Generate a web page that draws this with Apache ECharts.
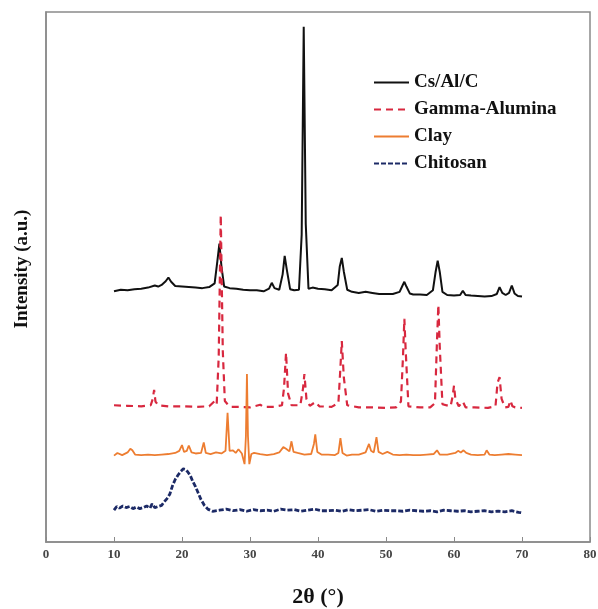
<!DOCTYPE html>
<html>
<head>
<meta charset="utf-8">
<script src="https://cdn.jsdelivr.net/npm/echarts@6/dist/echarts.min.js"></script>
<style>
  html, body { margin: 0; padding: 0; background: #fff; }
  #chart { width: 598px; height: 609px; }
</style>
</head>
<body>
<div id="chart"></div>
<script>
// 2θ positions and intensities (offset traces, arbitrary units)
const csX = [10, 11, 12, 13, 14, 15, 16, 16.5, 17, 17.6, 18, 18.4, 19, 20, 21, 22, 23, 24, 24.8, 25.2, 25.5, 25.8, 26.2, 27, 28, 29, 30, 31, 32, 32.8, 33.2, 33.6, 34.3, 34.8, 35.1, 35.4, 35.9, 36.5, 37.2, 37.6, 37.9, 38.2, 38.6, 39.2, 40, 41, 42, 42.9, 43.2, 43.5, 43.8, 44.3, 45, 46, 47, 48, 49, 50, 51, 52, 52.4, 52.7, 53, 53.5, 54, 55, 56, 56.9, 57.3, 57.6, 57.9, 58.3, 59, 60, 60.9, 61.3, 61.7, 62.5, 63.5, 64.5, 65.5, 66.3, 66.7, 67.1, 67.6, 68.1, 68.5, 68.9, 69.4, 70];
const csY = [47.3, 47.6, 47.5, 47.7, 47.8, 48.0, 48.4, 48.2, 48.5, 49.2, 49.9, 49.1, 48.3, 48.2, 48.1, 48.0, 47.9, 48.1, 48.8, 53, 56.3, 52, 48.2, 47.9, 47.8, 47.6, 47.5, 47.5, 47.3, 47.8, 48.9, 47.9, 47.6, 50.5, 54.0, 51.5, 47.7, 47.5, 47.6, 58, 97.2, 60, 47.8, 48.0, 47.8, 47.7, 47.5, 48.5, 52, 53.6, 51, 47.6, 47.2, 47.0, 47.2, 47.0, 46.8, 46.8, 46.8, 47.2, 48.3, 49.1, 48.2, 46.9, 46.7, 46.7, 46.6, 47.5, 51, 53.1, 51, 47.2, 46.6, 46.5, 46.6, 47.4, 46.6, 46.5, 46.4, 46.3, 46.4, 46.8, 48.1, 47.0, 46.6, 47.0, 48.4, 46.9, 46.4, 46.3];

const gaX = [10, 12, 14, 15.4, 15.7, 15.9, 16.1, 16.5, 18, 20, 22, 24, 24.8, 25.1, 25.4, 25.7, 26.0, 26.3, 26.7, 27.2, 28.5, 30, 31.5, 32, 33.5, 34.7, 35.0, 35.3, 35.6, 36.1, 37.4, 37.8, 38.0, 38.3, 38.8, 39.6, 40.2, 42, 43.0, 43.3, 43.5, 43.8, 44.3, 46, 48, 50, 51.5, 52.2, 52.5, 52.7, 52.9, 53.3, 55, 56.5, 57.2, 57.5, 57.7, 57.9, 58.3, 59.5, 59.8, 60.0, 60.2, 60.7, 61.3, 61.7, 63, 65, 66.1, 66.4, 66.7, 67.0, 67.5, 68.0, 68.3, 68.6, 69, 70];
const gaY = [25.8, 25.7, 25.6, 25.8, 27, 28.7, 26.5, 25.8, 25.6, 25.6, 25.5, 25.6, 26.6, 26.0, 35, 61.7, 36, 26.6, 26.0, 25.5, 25.5, 25.4, 25.9, 25.5, 25.5, 25.8, 29, 35.7, 28, 25.8, 25.8, 29, 31.7, 27, 25.7, 26.4, 25.6, 25.5, 26.2, 33, 37.9, 31, 25.8, 25.4, 25.4, 25.3, 25.4, 26.5, 35, 42.1, 36, 25.6, 25.4, 25.4, 26.2, 38, 44.7, 37, 26, 25.6, 27.5, 29.5, 27, 25.6, 26.5, 25.4, 25.4, 25.3, 25.6, 30, 31.1, 27, 25.4, 25.5, 26.7, 25.6, 25.4, 25.3];

const clX = [10, 10.5, 11.2, 12, 12.4, 12.7, 13.1, 14, 15, 16, 17, 18, 19, 19.6, 20.0, 20.3, 20.7, 21.0, 21.4, 22, 22.8, 23.2, 23.5, 24.2, 25, 25.8, 26.4, 26.7, 27.0, 27.5, 27.9, 28.3, 28.8, 29.2, 29.4, 29.55, 29.7, 29.9, 30.2, 30.6, 31.5, 32.5, 33.5, 34.3, 34.9, 35.3, 35.8, 36.1, 36.4, 37, 38, 39.0, 39.4, 39.6, 39.9, 40.5, 41.5, 42.5, 43.0, 43.3, 43.6, 44.2, 45, 46, 47.0, 47.5, 47.8, 48.2, 48.6, 48.9, 49.5, 50.2, 51, 52, 53, 54, 55, 56, 57.0, 57.5, 57.9, 59, 60.2, 60.6, 61.0, 61.4, 61.8, 62.5, 63.5, 64.5, 64.8, 65.2, 66, 67, 68, 69, 70];
const clY = [16.3, 16.8, 16.4, 16.9, 17.6, 17.3, 16.5, 16.4, 16.5, 16.4, 16.5, 16.6, 16.8, 17.2, 18.3, 17.0, 17.2, 18.2, 16.9, 16.7, 16.8, 18.8, 16.8, 16.6, 16.9, 16.7, 17.2, 24.4, 17.2, 17.3, 16.8, 17.5, 16.7, 14.7, 20, 31.7, 20, 14.7, 16.6, 16.8, 16.6, 16.4, 16.6, 16.9, 17.9, 17.6, 17.1, 19.0, 17.0, 16.8, 16.5, 16.6, 18.5, 20.3, 17.0, 16.5, 16.5, 16.4, 16.8, 19.6, 16.8, 16.3, 16.5, 16.5, 16.9, 18.5, 17.2, 16.9, 19.8, 17.0, 16.6, 17.0, 16.5, 16.4, 16.5, 16.4, 16.4, 16.5, 16.6, 17.3, 16.5, 16.5, 16.8, 17.2, 16.9, 17.3, 16.8, 16.5, 16.4, 16.5, 17.3, 16.5, 16.4, 16.5, 16.6, 16.5, 16.4];

const chX = [10, 10.4, 10.8, 11.3, 11.8, 12.3, 12.8, 13.3, 13.8, 14.3, 14.8, 15.3, 15.6, 16, 16.5, 17, 17.4, 17.8, 18.2, 18.6, 19, 19.4, 19.8, 20.2, 20.5, 20.8, 21.2, 21.6, 22, 22.4, 22.8, 23.3, 23.8, 24.5, 25.5, 26.5, 27.5, 28.5, 29.5, 30.5, 31.5, 32.5, 33.5, 34.5, 35.5, 36.5, 37.5, 38.5, 39.5, 40.5, 41.5, 42.5, 43.5, 44.5, 45.5, 46.5, 47.5, 48.5, 49.5, 50.5, 51.5, 52.5, 53.5, 54.5, 55.5, 56.5, 57.5, 58.5, 59.5, 60.5, 61.5, 62.5, 63.5, 64.5, 65.5, 66.5, 67.5, 68.5, 69.5, 70];
const chY = [6.0, 6.7, 6.4, 6.8, 6.5, 6.7, 6.3, 6.6, 6.3, 6.5, 6.8, 6.4, 7.2, 6.5, 6.7, 6.9, 7.6, 8.2, 9.0, 10.6, 11.8, 12.6, 13.3, 13.8, 13.7, 13.3, 12.6, 11.4, 10.4, 9.2, 8.0, 6.9, 6.2, 5.8, 6.0, 6.2, 5.9, 6.1, 5.8, 6.1, 5.9, 6.0, 5.8, 6.2, 6.0, 6.1, 5.8, 6.0, 6.2, 5.9, 5.9, 6.0, 5.8, 6.1, 5.9, 6.0, 6.1, 5.8, 6.0, 5.9, 5.9, 5.8, 6.0, 5.9, 5.8, 5.9, 5.7, 6.0, 5.9, 5.8, 5.9, 5.7, 5.8, 5.9, 5.7, 5.8, 5.7, 5.9, 5.6, 5.5];

const xTicks = [0, 10, 20, 30, 40, 50, 60, 70, 80];

const zip = (xs, ys) => xs.map((x, i) => [x, ys[i]]);
const serif = 'Liberation Serif';

const chart = echarts.init(document.getElementById('chart'));

const option = {
  animation: false,
  grid: {
    left: 46, right: 8, top: 12, bottom: 67,
    outerBoundsMode: 'none', containLabel: false,
    show: true, borderColor: '#8a8a8a', borderWidth: 1.5
  },
  legend: {
    orient: 'vertical',
    left: 373, top: 73, padding: 0,
    itemWidth: 35, itemHeight: 14, itemGap: 8,
    itemStyle: { opacity: 0 },
    textStyle: { fontFamily: serif, fontWeight: 'bold', fontSize: 19, color: '#111' },
    data: ['Cs/Al/C', 'Gamma-Alumina', 'Clay', 'Chitosan']
  },
  xAxis: {
    type: 'value', min: xTicks[0], max: xTicks[xTicks.length - 1], interval: 10,
    name: '2θ (°)', nameLocation: 'middle', nameGap: 44,
    nameTextStyle: { fontFamily: serif, fontSize: 22, fontWeight: 'bold', color: '#111' },
    axisLine: { lineStyle: { color: '#8a8a8a', width: 1.5 } },
    axisTick: { inside: true, length: 5, lineStyle: { color: '#8a8a8a' } },
    axisLabel: { fontFamily: serif, fontWeight: 'bold', fontSize: 13, color: '#444', margin: 6 },
    splitLine: { show: false }
  },
  yAxis: {
    type: 'value', min: 0, max: 100,
    name: 'Intensity (a.u.)', nameLocation: 'middle', nameGap: 14,
    nameTextStyle: { fontFamily: serif, fontSize: 19, fontWeight: 'bold', color: '#111', padding: [0, 0, 0, 16] },
    axisLine: { show: true, lineStyle: { color: '#8a8a8a', width: 1.5 } },
    axisTick: { show: false },
    axisLabel: { show: false },
    splitLine: { show: false }
  },
  series: [
    {
      name: 'Cs/Al/C', type: 'line', symbol: 'none',
      data: zip(csX, csY),
      lineStyle: { color: '#111', width: 2 }, itemStyle: { color: '#111' }
    },
    {
      name: 'Gamma-Alumina', type: 'line', symbol: 'none',
      data: zip(gaX, gaY),
      lineStyle: { color: '#d8283f', width: 2.2, type: [7, 5] }, itemStyle: { color: '#d8283f' }
    },
    {
      name: 'Clay', type: 'line', symbol: 'none',
      data: zip(clX, clY),
      lineStyle: { color: '#ed7d31', width: 1.8 }, itemStyle: { color: '#ed7d31' }
    },
    {
      name: 'Chitosan', type: 'line', symbol: 'none',
      data: zip(chX, chY),
      lineStyle: { color: '#1c2a66', width: 2.8, type: [5, 2] }, itemStyle: { color: '#1c2a66' }
    }
  ]
};

chart.setOption(option);
</script>
</body>
</html>
